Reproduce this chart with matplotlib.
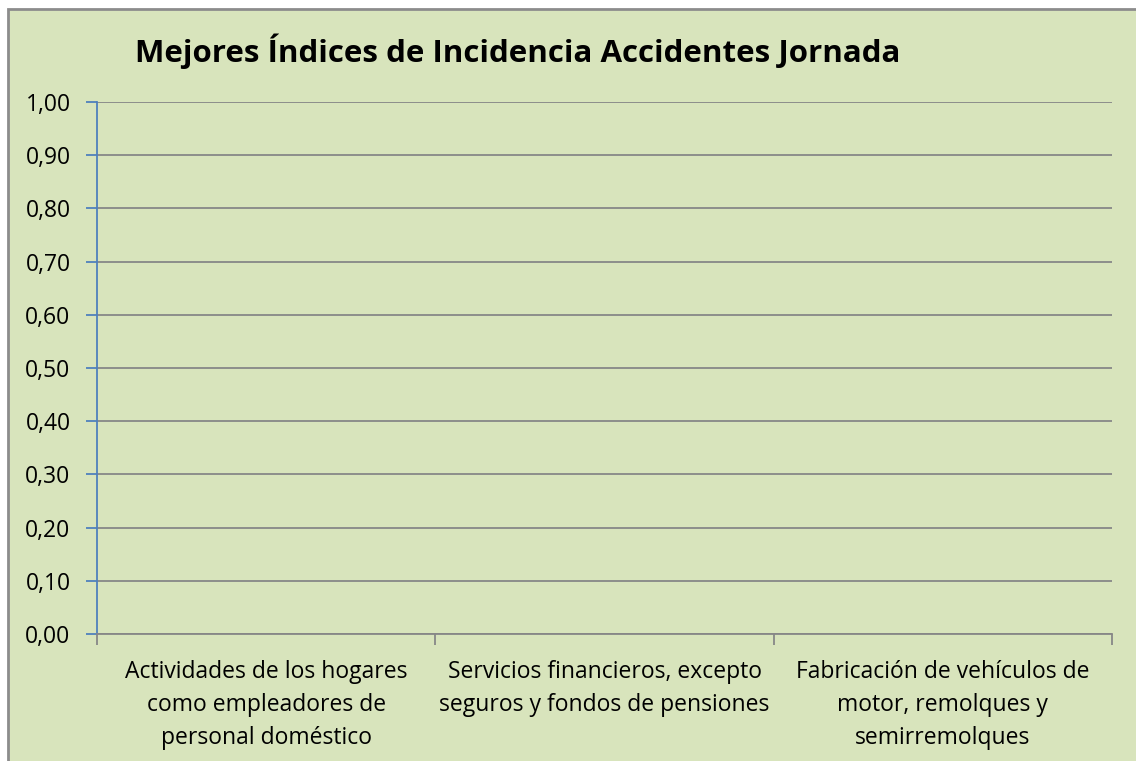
import matplotlib.pyplot as plt
from matplotlib.patches import Rectangle
import numpy as np

# Data (all values are zero in the source chart)
categories = ["Actividades de los hogares\ncomo empleadores de\npersonal doméstico",
              "Servicios financieros, excepto\nseguros y fondos de pensiones",
              "Fabricación de vehículos de\nmotor, remolques y\nsemirremolques"]
values = [0.0, 0.0, 0.0]
yticks = [0.0, 0.1, 0.2, 0.3, 0.4, 0.5, 0.6, 0.7, 0.8, 0.9, 1.0]
title = "Mejores Índices de Incidencia Accidentes Jornada"

bg = "#D8E4BC"
plt.rcParams['font.family'] = ['Open Sans', 'DejaVu Sans']

W, H = 1136, 761
fig = plt.figure(figsize=(W / 100, H / 100), dpi=100, facecolor="white")

# chart area background with grey border (right/bottom cut off)
fig.patches.append(Rectangle((7.5 / W, -0.1), 1.0, 1.1 - 9.5 / H, transform=fig.transFigure,
                             facecolor=bg, edgecolor="#8C8C8C", linewidth=2, zorder=-5))

ax = fig.add_axes([97 / W, 1 - 634 / H, (1112 - 97) / W, (634 - 102) / H])
ax.set_facecolor(bg)

x = np.arange(len(categories))
ax.bar(x, values, width=0.6, color="#4F81BD")
ax.set_xlim(-0.5, len(categories) - 0.5)
ax.set_ylim(0, 1.0)

ax.set_yticks(yticks)
ax.set_yticklabels([f"{v:.2f}".replace(".", ",") for v in yticks], fontsize=16.5)
ax.yaxis.grid(True, color="#878787", linewidth=1.3)
ax.set_axisbelow(True)

ax.set_xticks(x)
ax.set_xticklabels(categories, fontsize=16.5, linespacing=1.5)
ax.set_xticks(np.arange(len(categories) + 1) - 0.5, minor=True)
ax.tick_params(axis="x", which="major", length=0, pad=19)
ax.tick_params(axis="x", which="minor", length=8, color="#878787", width=1.3)
ax.tick_params(axis="y", length=8, color="#4F81BD", width=1.3, pad=11)

for s in ["top", "right"]:
    ax.spines[s].set_visible(False)
ax.spines["left"].set_color("#4F81BD")
ax.spines["left"].set_linewidth(1.3)
ax.spines["bottom"].set_color("#878787")
ax.spines["bottom"].set_linewidth(1.3)

fig.text(518 / W, 1 - 51 / H, title, ha="center", va="center",
         fontsize=22.5, fontweight="bold")

fig.savefig("out.png", dpi=100, facecolor="white")
